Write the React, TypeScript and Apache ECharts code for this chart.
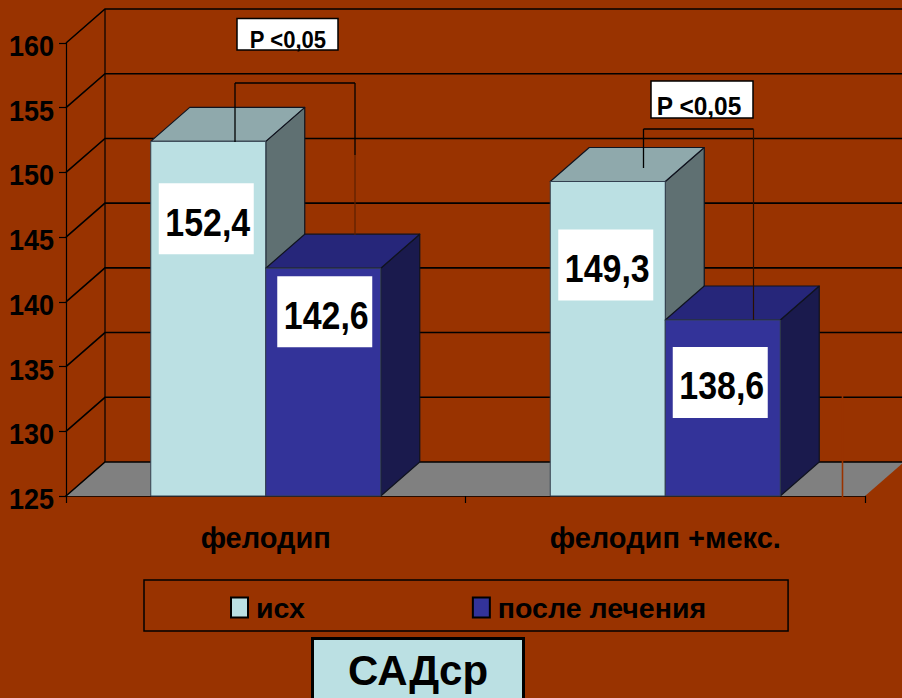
import React, { useEffect, useRef } from "react";
import * as echarts from "echarts";

const categories = ["фелодип", "фелодип +мекс."];
const seriesNames = ["исх", "после лечения"];
const baseline = [152.4, 149.3];
const afterTreatment = [142.6, 138.6];
const yTicks = [125, 130, 135, 140, 145, 150, 155, 160];
const titleText = "САДср";
const pValueText = "P <0,05";

const BG = "#993300";
const SANS = '"Liberation Sans", Arial, sans-serif';
const DX = 39;
const DY = 34;
const BAR_W = 115;
const VALUE_NARROW = 0.87;
const TICK_NARROW = 0.9;

const paletteA = { front: "#BBE0E3", top: "#8FA9AC", side: "#5F7072" };
const paletteB = { front: "#333399", top: "#26267A", side: "#1A1A4D" };

// hand-placed value boxes: shift of the box centre from the bar's top centre
const boxShiftA = [[-2, 78], [-2, 84]];
const boxShiftB = [[1.5, 44], [-2.5, 63]];

function barRenderer(side: number, palette: any, shifts: number[][]) {
  return (params: any, api: any) => {
    const cat = api.value(0);
    const val = api.value(1);
    const top = api.coord([cat, val]);
    const base = api.coord([cat, yTicks[0]]);
    const x0 = side < 0 ? top[0] - BAR_W : top[0];
    const x1 = x0 + BAR_W;
    const yT = top[1];
    const yB = base[1];
    const edge = { stroke: "#10131f", lineWidth: 1.2, lineJoin: "round" };
    const [sx, sy] = shifts[params.dataIndex];
    const cx = (x0 + x1) / 2 + sx;
    const cy = yT + sy;
    return {
      type: "group",
      children: [
        {
          type: "polygon",
          shape: { points: [[x1, yB], [x1 + DX, yB - DY], [x1 + DX, yT - DY], [x1, yT]] },
          style: { fill: palette.side, ...edge },
        },
        {
          type: "polygon",
          shape: { points: [[x0, yT], [x0 + DX, yT - DY], [x1 + DX, yT - DY], [x1, yT]] },
          style: { fill: palette.top, ...edge },
        },
        {
          type: "rect",
          shape: { x: x0, y: yT, width: BAR_W, height: yB - yT },
          style: { fill: palette.front, stroke: "#33404f", lineWidth: 1 },
        },
        {
          type: "rect",
          shape: { x: cx - 47.5, y: cy - 36, width: 95, height: 71 },
          style: { fill: "#ffffff" },
        },
        {
          type: "text",
          x: cx + 1.5,
          y: cy + 3,
          scaleX: VALUE_NARROW,
          style: {
            text: String(val).replace(".", ","),
            fontFamily: SANS,
            fontWeight: "bold",
            fontSize: 39,
            fill: "#000000",
            align: "center",
            verticalAlign: "middle",
          },
        },
      ],
    };
  };
}

function wallRenderer(params: any, api: any) {
  const v = api.value(1);
  const [, y] = api.coord([0, v]);
  const cs = params.coordSys;
  const x1 = cs.x + cs.width;
  const line = { stroke: "#000000", lineWidth: 1.6, fill: "none" };
  const children: any[] = [];
  if (v === yTicks[0]) {
    const top = api.coord([0, yTicks[yTicks.length - 1]]);
    children.push({
      type: "polygon",
      shape: { points: [[cs.x, y], [cs.x + DX, y - DY], [x1 + DX, y - DY], [x1, y]] },
      style: { fill: "#808080" },
    });
    children.push({
      type: "line",
      shape: { x1: cs.x + DX, y1: y - DY, x2: cs.x + DX, y2: top[1] - DY },
      style: { stroke: "#000000", lineWidth: 1.2 },
    });
  }
  children.push({
    type: "polyline",
    shape: { points: [[cs.x, y], [cs.x + DX, y - DY], [x1 + DX, y - DY]] },
    style: line,
  });
  // tick label, narrowed like the reference's condensed face
  children.push({
    type: "text",
    x: cs.x - 12,
    y: y + 2.5,
    scaleX: TICK_NARROW,
    style: {
      text: String(v),
      fontFamily: SANS,
      fontWeight: "bold",
      fontSize: 30,
      fill: "#000000",
      align: "right",
      verticalAlign: "middle",
    },
  });
  return { type: "group", children };
}

function pBox(x: number, y: number, w: number, h: number, tx: number, ty: number, size: number, sx: number) {
  return [
    {
      type: "rect",
      shape: { x, y, width: w, height: h },
      style: { fill: "#ffffff", stroke: "#000000", lineWidth: 1.5 },
      z: 50,
    },
    {
      type: "text",
      x: tx,
      y: ty,
      scaleX: sx,
      style: {
        text: pValueText,
        fontFamily: SANS,
        fontWeight: "bold",
        fontSize: size,
        fill: "#000000",
        align: "center",
        verticalAlign: "middle",
      },
      z: 51,
    },
  ];
}

function seg(x1: number, y1: number, x2: number, y2: number, stroke = "#000000", lineWidth = 1.3) {
  return { type: "line", shape: { x1, y1, x2, y2 }, style: { stroke, lineWidth }, z: 49 };
}

export default function App() {
  const ref = useRef<HTMLDivElement>(null);
  useEffect(() => {
    document.body.style.margin = "0";
    document.body.style.background = BG;
    const chart = echarts.init(ref.current!, undefined, { renderer: "svg" });
    chart.setOption({
      animation: false,
      backgroundColor: BG,
      title: {
        text: titleText,
        left: 312,
        top: 638,
        padding: [11, 36, 30, 36],
        borderColor: "#000000",
        borderWidth: 3,
        backgroundColor: "#BBE0E3",
        textStyle: { fontFamily: SANS, fontWeight: "bold", fontSize: 42, color: "#000000" },
      },
      legend: {
        left: 144,
        top: 580,
        data: seriesNames,
        icon: "rect",
        itemWidth: 17,
        itemHeight: 20,
        itemGap: 167,
        borderColor: "#000000",
        borderWidth: 1.5,
        padding: [13, 82, 9, 86],
        selectedMode: false,
        textStyle: {
          fontFamily: SANS,
          fontWeight: "bold",
          fontSize: 28.5,
          color: "#000000",
          padding: [3, 0, 0, 3],
        },
      },
      grid: { left: 66, right: 37, top: 43, bottom: 202, containLabel: false },
      xAxis: {
        type: "category",
        data: categories,
        axisLine: { lineStyle: { color: "#000000", width: 1.6 } },
        axisTick: { show: true, alignWithLabel: false, length: 7, lineStyle: { color: "#000000", width: 1.2 } },
        axisLabel: {
          margin: 27,
          fontFamily: SANS,
          fontWeight: "bold",
          fontSize: 29,
          color: "#000000",
        },
        splitLine: { show: false },
      },
      yAxis: {
        type: "value",
        min: 125,
        max: 160,
        interval: 5,
        axisLine: { show: true, lineStyle: { color: "#000000", width: 1.2 } },
        axisTick: { show: true, length: 7, lineStyle: { color: "#000000", width: 1.2 } },
        axisLabel: { show: false },
        splitLine: { show: false },
      },
      series: [
        {
          name: "walls",
          type: "custom",
          renderItem: wallRenderer,
          data: yTicks.map((v) => [0, v]),
          silent: true,
          z: 1,
        },
        {
          name: seriesNames[0],
          type: "custom",
          renderItem: barRenderer(-1, paletteA, boxShiftA),
          data: baseline.map((v, i) => [i, v]),
          itemStyle: { color: paletteA.front, borderColor: "#000000", borderWidth: 1.5 },
          z: 2,
        },
        {
          name: seriesNames[1],
          type: "custom",
          renderItem: barRenderer(1, paletteB, boxShiftB),
          data: afterTreatment.map((v, i) => [i, v]),
          itemStyle: { color: paletteB.front, borderColor: "#000000", borderWidth: 1.5 },
          z: 3,
        },
      ],
      graphic: [
        // significance brackets and boxes drawn over the chart
        seg(235, 142, 235, 83),
        seg(235, 83, 355, 83),
        seg(355, 83, 355, 155),
        seg(355, 155, 355, 235, "#5c2000", 1.2),
        seg(643.5, 168, 643.5, 129),
        seg(643.5, 129, 753.5, 129),
        seg(753.5, 129, 753.5, 320, "#2a1000", 1.2),
        // stray light stroke on the floor at the right
        seg(842.5, 396, 842.5, 497, BG, 1.6),
        ...pBox(237, 18.5, 101, 31.5, 288, 40, 24, 0.92),
        ...pBox(651, 81, 102, 37, 699, 106, 26, 0.94),
      ],
    });
    return () => chart.dispose();
  }, []);
  return <div ref={ref} style={{ width: 902, height: 698, position: "absolute", left: 0, top: 0 }} />;
}
